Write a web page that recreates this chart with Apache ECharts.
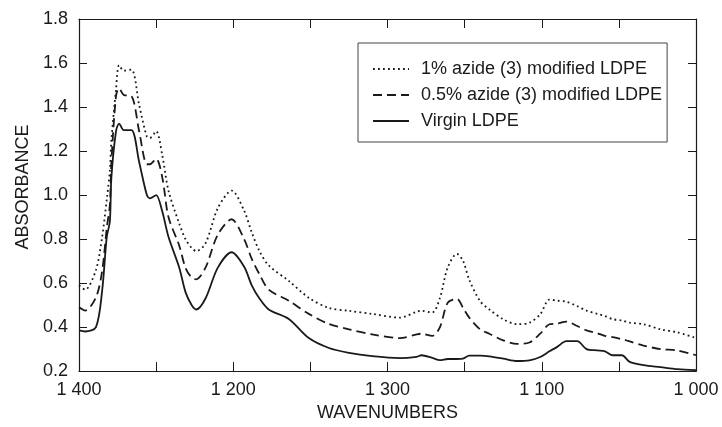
<!DOCTYPE html>
<html>
<head>
<meta charset="utf-8">
<script src="https://cdn.jsdelivr.net/npm/echarts@6/dist/echarts.min.js"></script>
<style>
    html, body { margin: 0; padding: 0; background: #ffffff; }
    #main { width: 722px; height: 427px; }
</style>
</head>
<body>
<div id="main"></div>
<script>
//波数 (cm-1)
let wavenumbers = [1400, 1396, 1389, 1385, 1382, 1380, 1379, 1376, 1374, 1371, 1366, 1361, 1356, 1354, 1350, 1346, 1342, 1335, 1331, 1327,
    1324, 1318, 1310, 1301, 1293, 1288, 1283, 1277, 1264, 1251, 1238, 1225, 1210, 1192, 1181, 1178, 1171, 1166, 1161, 1155,
    1151, 1147, 1140, 1134, 1125, 1116, 1108, 1101, 1095, 1090, 1084, 1077, 1071, 1064, 1059, 1054, 1048, 1043, 1034, 1023, 1012, 1000];

//1% azide (3) modified LDPE
let azide1 = [0.59, 0.57, 0.66, 0.81, 0.98, 1.11, 1.25, 1.48, 1.59, 1.565, 1.57, 1.41, 1.265, 1.26, 1.29, 1.18, 1.02, 0.87, 0.80, 0.76,
    0.745, 0.78, 0.94, 1.02, 0.93, 0.83, 0.745, 0.68, 0.61, 0.533, 0.487, 0.474, 0.46, 0.443, 0.47, 0.474, 0.466, 0.533, 0.67, 0.733,
    0.70, 0.615, 0.518, 0.48, 0.436, 0.413, 0.42, 0.458, 0.525, 0.52, 0.515, 0.495, 0.475, 0.46, 0.45, 0.436, 0.43, 0.42, 0.413, 0.39, 0.376, 0.35];

//0.5% azide (3) modified LDPE
let azide05 = [0.49, 0.475, 0.535, 0.655, 0.85, 0.955, 1.15, 1.45, 1.485, 1.455, 1.45, 1.29, 1.14, 1.14, 1.165, 1.08, 0.9, 0.77, 0.67, 0.625,
    0.617, 0.67, 0.82, 0.89, 0.80, 0.71, 0.64, 0.57, 0.52, 0.46, 0.414, 0.39, 0.367, 0.35, 0.367, 0.37, 0.36, 0.40, 0.51, 0.528,
    0.487, 0.443, 0.39, 0.37, 0.34, 0.324, 0.33, 0.37, 0.413, 0.416, 0.425, 0.405, 0.385, 0.372, 0.36, 0.354, 0.345, 0.335, 0.316, 0.30, 0.294, 0.272];

//Virgin LDPE
let virgin = [0.385, 0.38, 0.40, 0.565, 0.81, 0.88, 1.08, 1.29, 1.325, 1.295, 1.295, 1.15, 1.0, 0.985, 1.0, 0.925, 0.81, 0.67, 0.56, 0.50,
    0.48, 0.53, 0.67, 0.74, 0.675, 0.59, 0.53, 0.48, 0.437, 0.35, 0.305, 0.283, 0.268, 0.259, 0.265, 0.272, 0.26, 0.25, 0.255, 0.255,
    0.257, 0.27, 0.27, 0.267, 0.257, 0.246, 0.249, 0.264, 0.29, 0.31, 0.336, 0.336, 0.30, 0.294, 0.29, 0.272, 0.272, 0.242, 0.227, 0.218, 0.209, 0.204];

let seriesNames = ['1% azide (3) modified LDPE', '0.5% azide (3) modified LDPE', 'Virgin LDPE'];

//X轴刻度文字 (按原图印刷)
let tickValues = [1400, 1300, 1200, 1100, 1000];
let tickLabels = ['1 400', '1 200', '1 300', '1 100', '1 000'];

function Pairs(values) {
    let data = [];
    for (let i = 0; i < wavenumbers.length; i++) {
        data.push([wavenumbers[i], values[i]]);
    }
    return data;
}

let font = "'Liberation Sans', Arial, sans-serif";
let ink = '#1a1a1a';
let hidden = 'rgba(0,0,0,0)';

let chart = echarts.init(document.getElementById('main'), null, {renderer: 'canvas'});

let xBase = {
    type: 'value',
    min: 1000,
    max: 1400,
    interval: 50,
    inverse: true,
    splitLine: {show: false},
    axisLine: {show: true, onZero: false, lineStyle: {color: ink, width: 1.2}},
    axisTick: {show: true, inside: true, length: 9, lineStyle: {color: ink}}
};
let yBase = {
    type: 'value',
    min: 0.2,
    max: 1.8,
    interval: 0.2,
    splitLine: {show: false},
    axisLine: {show: true, onZero: false, lineStyle: {color: ink, width: 1.2}},
    axisTick: {show: true, inside: true, length: 8, lineStyle: {color: ink}}
};

let option = {
    backgroundColor: '#ffffff',
    animation: false,
    textStyle: {fontFamily: font},
    grid: {left: 79, right: 26, top: 19, bottom: 54},
    legend: {
        orient: 'vertical',
        left: 358,
        top: 43,
        padding: [17, 5, 12, 14],
        itemGap: 8,
        itemWidth: 36,
        itemHeight: 14,
        borderColor: '#444',
        borderWidth: 1,
        itemStyle: {color: hidden, borderWidth: 0},
        textStyle: {fontFamily: font, fontSize: 18, color: ink, padding: [0, 0, 0, 7]},
        data: seriesNames
    },
    xAxis: [Object.assign({}, xBase, {
        position: 'bottom',
        name: 'WAVENUMBERS',
        nameLocation: 'middle',
        nameGap: 29,
        nameTextStyle: {fontFamily: font, fontSize: 18, color: ink},
        axisLabel: {
            show: true,
            margin: 10,
            fontFamily: font,
            fontSize: 18,
            color: ink,
            formatter: function (value) {
                let k = tickValues.indexOf(value);
                return k >= 0 ? tickLabels[k] : '';
            }
        }
    }), Object.assign({}, xBase, {
        position: 'top',
        axisLabel: {show: false}
    })],
    yAxis: [Object.assign({}, yBase, {
        position: 'left',
        name: 'ABSORBANCE',
        nameLocation: 'middle',
        nameGap: 42,
        nameRotate: 90,
        nameTextStyle: {fontFamily: font, fontSize: 18, color: ink, padding: [0, 0, 0, 16]},
        axisLabel: {
            show: true,
            margin: 11,
            fontFamily: font,
            fontSize: 18,
            color: ink,
            formatter: function (value) {
                return value.toFixed(1);
            }
        }
    }), Object.assign({}, yBase, {
        position: 'right',
        axisLabel: {show: false}
    })],
    series: [{
        name: seriesNames[0],
        type: 'line',
        symbol: 'none',
        smooth: 0.3,
        lineStyle: {color: ink, width: 1.8, type: [1.8, 3.2]},
        itemStyle: {color: hidden},
        data: Pairs(azide1)
    }, {
        name: seriesNames[1],
        type: 'line',
        symbol: 'none',
        smooth: 0.3,
        lineStyle: {color: ink, width: 1.8, type: [9, 5]},
        itemStyle: {color: hidden},
        data: Pairs(azide05)
    }, {
        name: seriesNames[2],
        type: 'line',
        symbol: 'none',
        smooth: 0.3,
        lineStyle: {color: ink, width: 1.8, type: 'solid'},
        itemStyle: {color: hidden},
        data: Pairs(virgin)
    }]
};

chart.setOption(option);
</script>
</body>
</html>
